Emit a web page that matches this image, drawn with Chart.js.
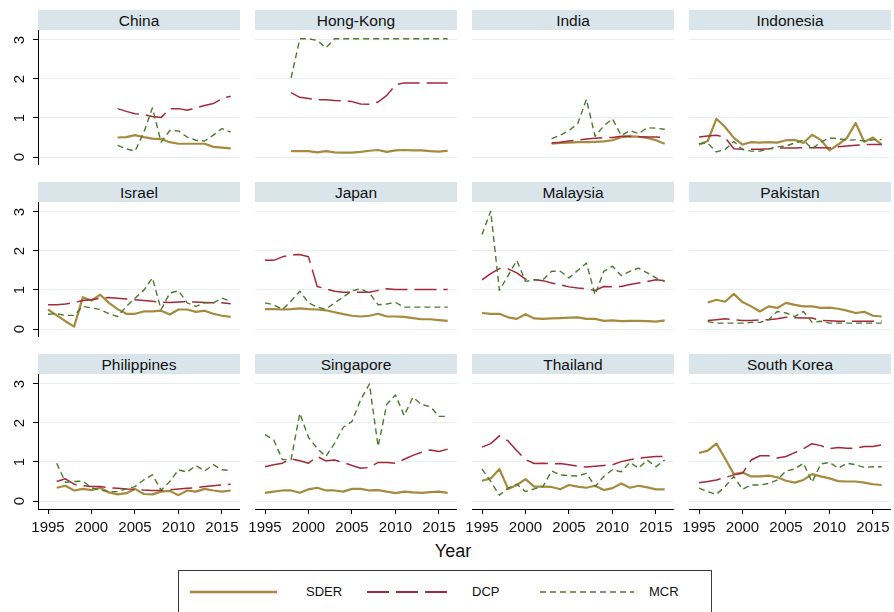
<!DOCTYPE html>
<html>
<head>
<meta charset="utf-8">
<script src="https://cdn.jsdelivr.net/npm/chart.js@4.4.1/dist/chart.umd.min.js"></script>
<style>
  html, body { margin: 0; padding: 0; background: #ffffff; }
  #wrap { position: relative; width: 894px; height: 612px; overflow: hidden;
          font-family: "Liberation Sans", Arial, Helvetica, sans-serif; color: #111; }
  .strip { position: absolute; height: 20px; line-height: 21px; background: #d9e5ea;
           font-size: 15.5px; text-align: center; color: #111; }
  canvas { position: absolute; }
  #xtitle { position: absolute; left: 403px; width: 100px; top: 540px; text-align: center;
            font-size: 18px; line-height: 22px; color: #111; }
  #legend { position: absolute; left: 178px; top: 570px; width: 534px; height: 60px;
            border: 1px solid #3a3a3a; box-sizing: border-box; }
  .lgtext { position: absolute; top: 13px; font-size: 13px; line-height: 16px; color: #111; }
  .lgline { position: absolute; top: 12px; }
</style>
</head>
<body>
<div id="wrap">
  <div id="xtitle">Year</div>
  <div id="legend"></div>
</div>
<script>
// ---- data ---------------------------------------------------------------
const years = [1995,1996,1997,1998,1999,2000,2001,2002,2003,2004,2005,
               2006,2007,2008,2009,2010,2011,2012,2013,2014,2015,2016];
const xTickValues = [1995, 2000, 2005, 2010, 2015];
const yTickValues = [0, 1, 2, 3];
const seriesNames = ['SDER', 'DCP', 'MCR'];
const countries = ['China', 'Hong-Kong', 'India', 'Indonesia',
                   'Israel', 'Japan', 'Malaysia', 'Pakistan',
                   'Philippines', 'Singapore', 'Thailand', 'South Korea'];
const N = null;

const chinaSDER = [N,N,N,N,N,N,N,N,0.50,0.51,0.56,0.51,0.47,0.46,0.38,0.34,0.34,0.34,0.34,0.26,0.24,0.22];
const chinaDCP  = [N,N,N,N,N,N,N,N,1.24,1.17,1.11,1.09,1.04,1.01,1.24,1.24,1.20,1.26,1.32,1.37,1.50,1.56];
const chinaMCR  = [N,N,N,N,N,N,N,N,0.30,0.21,0.15,0.62,1.26,0.38,0.68,0.67,0.51,0.43,0.41,0.56,0.73,0.64];

const hongKongSDER = [N,N,N,0.15,0.15,0.15,0.12,0.15,0.12,0.11,0.11,0.13,0.16,0.18,0.13,0.17,0.18,0.17,0.17,0.15,0.14,0.16];
const hongKongDCP  = [N,N,N,1.65,1.53,1.50,1.47,1.47,1.45,1.44,1.42,1.36,1.35,1.41,1.58,1.85,1.90,1.90,1.90,1.90,1.90,1.90];
const hongKongMCR  = [N,N,N,2.03,3.03,3.03,2.99,2.80,3.03,3.03,3.03,3.03,3.03,3.03,3.03,3.03,3.03,3.03,3.03,3.03,3.03,3.03];

const indiaSDER = [N,N,N,N,N,N,N,N,0.34,0.36,0.37,0.38,0.38,0.39,0.40,0.43,0.51,0.53,0.52,0.49,0.43,0.34];
const indiaDCP  = [N,N,N,N,N,N,N,N,0.36,0.38,0.41,0.43,0.46,0.48,0.50,0.50,0.53,0.53,0.52,0.51,0.51,0.50];
const indiaMCR  = [N,N,N,N,N,N,N,N,0.47,0.56,0.68,0.85,1.48,0.53,0.80,0.98,0.55,0.68,0.60,0.75,0.74,0.71];

const indonesiaSDER = [0.32,0.41,0.98,0.77,0.49,0.32,0.38,0.37,0.38,0.37,0.43,0.44,0.36,0.57,0.44,0.17,0.32,0.49,0.87,0.39,0.50,0.32];
const indonesiaDCP  = [0.51,0.54,0.56,0.50,0.21,0.20,0.20,0.20,0.21,0.23,0.23,0.23,0.24,0.24,0.24,0.23,0.26,0.28,0.30,0.32,0.32,0.32];
const indonesiaMCR  = [0.34,0.36,0.13,0.19,0.40,0.19,0.15,0.15,0.21,0.26,0.28,0.36,0.43,0.21,0.38,0.49,0.47,0.43,0.44,0.41,0.44,0.45];

const israelSDER = [0.50,0.35,0.20,0.06,0.81,0.73,0.88,0.67,0.51,0.39,0.39,0.45,0.45,0.47,0.37,0.50,0.50,0.44,0.47,0.39,0.34,0.31];
const israelDCP  = [0.62,0.62,0.64,0.68,0.73,0.75,0.79,0.81,0.79,0.77,0.75,0.73,0.71,0.69,0.68,0.69,0.70,0.69,0.68,0.67,0.67,0.65];
const israelMCR  = [0.38,0.39,0.35,0.35,0.58,0.54,0.50,0.39,0.32,0.58,0.79,0.99,1.31,0.50,0.92,0.98,0.67,0.58,0.67,0.67,0.79,0.71];

const japanSDER = [0.51,0.51,0.50,0.51,0.53,0.51,0.50,0.48,0.43,0.38,0.34,0.32,0.34,0.39,0.32,0.32,0.31,0.28,0.25,0.25,0.23,0.21];
const japanDCP  = [1.76,1.76,1.85,1.90,1.91,1.85,1.09,1.03,0.97,0.94,0.94,0.94,0.94,0.99,1.03,1.01,1.01,1.01,1.01,1.01,1.01,1.01];
const japanMCR  = [0.67,0.62,0.50,0.72,0.97,0.67,0.56,0.51,0.67,0.82,0.98,1.03,0.92,0.62,0.64,0.68,0.56,0.56,0.56,0.56,0.56,0.56];

const malaysiaSDER = [0.41,0.39,0.39,0.30,0.26,0.38,0.27,0.26,0.27,0.28,0.29,0.30,0.26,0.26,0.21,0.22,0.20,0.21,0.21,0.20,0.19,0.22];
const malaysiaDCP  = [1.26,1.42,1.55,1.54,1.44,1.28,1.26,1.24,1.18,1.13,1.08,1.05,1.03,0.99,1.09,1.08,1.09,1.14,1.18,1.22,1.26,1.24];
const malaysiaMCR  = [2.42,3.02,0.99,1.37,1.76,1.22,1.26,1.26,1.48,1.48,1.31,1.50,1.69,0.88,1.48,1.61,1.37,1.48,1.56,1.44,1.31,1.22];

const pakistanSDER = [N,0.68,0.75,0.70,0.90,0.69,0.58,0.45,0.58,0.54,0.67,0.62,0.58,0.58,0.54,0.55,0.52,0.47,0.41,0.44,0.34,0.32];
const pakistanDCP  = [N,0.22,0.24,0.26,0.24,0.22,0.22,0.23,0.24,0.26,0.30,0.29,0.28,0.28,0.22,0.21,0.20,0.20,0.20,0.20,0.20,0.20];
const pakistanMCR  = [N,0.19,0.15,0.15,0.15,0.15,0.17,0.17,0.24,0.45,0.41,0.32,0.45,0.17,0.20,0.15,0.15,0.15,0.15,0.15,0.15,0.15];

const philippinesSDER = [N,0.34,0.39,0.27,0.31,0.28,0.34,0.22,0.17,0.20,0.31,0.18,0.17,0.24,0.26,0.15,0.27,0.24,0.31,0.27,0.24,0.27];
const philippinesDCP  = [N,0.50,0.57,0.43,0.39,0.37,0.37,0.34,0.33,0.31,0.30,0.28,0.27,0.27,0.29,0.31,0.33,0.34,0.37,0.39,0.41,0.43];
const philippinesMCR  = [N,0.97,0.48,0.50,0.51,0.34,0.28,0.24,0.24,0.31,0.37,0.54,0.67,0.28,0.50,0.80,0.74,0.91,0.77,0.93,0.80,0.78];

const singaporeSDER = [0.21,0.24,0.27,0.27,0.21,0.30,0.34,0.27,0.27,0.24,0.31,0.31,0.27,0.28,0.24,0.20,0.24,0.22,0.21,0.23,0.24,0.21];
const singaporeDCP  = [0.88,0.93,0.97,1.08,1.03,0.97,1.14,1.03,1.05,0.99,0.91,0.84,0.86,0.99,0.99,0.97,1.07,1.17,1.25,1.31,1.27,1.33];
const singaporeMCR  = [1.70,1.57,1.06,1.06,2.25,1.63,1.35,1.14,1.48,1.89,2.04,2.60,3.00,1.40,2.48,2.72,2.19,2.66,2.47,2.42,2.17,2.17];

const thailandSDER = [0.52,0.58,0.82,0.31,0.41,0.56,0.37,0.37,0.36,0.30,0.41,0.37,0.34,0.39,0.28,0.33,0.45,0.34,0.39,0.35,0.30,0.30];
const thailandDCP  = [1.38,1.47,1.67,1.54,1.29,1.06,0.96,0.97,0.95,0.96,0.93,0.89,0.87,0.89,0.91,0.93,1.01,1.06,1.10,1.12,1.14,1.14];
const thailandMCR  = [0.82,0.50,0.15,0.33,0.43,0.24,0.31,0.37,0.77,0.67,0.65,0.64,0.71,0.37,0.63,0.80,0.75,0.99,0.84,1.05,0.88,1.05];

const southKoreaSDER = [1.23,1.29,1.47,1.09,0.69,0.73,0.63,0.63,0.65,0.61,0.52,0.47,0.54,0.69,0.63,0.58,0.51,0.50,0.50,0.47,0.43,0.41];
const southKoreaDCP  = [0.47,0.50,0.54,0.60,0.67,0.71,1.05,1.16,1.16,1.10,1.14,1.24,1.34,1.47,1.42,1.34,1.37,1.35,1.35,1.40,1.40,1.44];
const southKoreaMCR  = [0.33,0.24,0.17,0.37,0.63,0.30,0.41,0.41,0.45,0.54,0.77,0.82,0.97,0.48,0.95,0.99,0.84,0.97,0.93,0.86,0.88,0.88];

// ---- panel table ----------------------------------------------------------
const panelSeries = [
  [chinaSDER, chinaDCP, chinaMCR],
  [hongKongSDER, hongKongDCP, hongKongMCR],
  [indiaSDER, indiaDCP, indiaMCR],
  [indonesiaSDER, indonesiaDCP, indonesiaMCR],
  [israelSDER, israelDCP, israelMCR],
  [japanSDER, japanDCP, japanMCR],
  [malaysiaSDER, malaysiaDCP, malaysiaMCR],
  [pakistanSDER, pakistanDCP, pakistanMCR],
  [philippinesSDER, philippinesDCP, philippinesMCR],
  [singaporeSDER, singaporeDCP, singaporeMCR],
  [thailandSDER, thailandDCP, thailandMCR],
  [southKoreaSDER, southKoreaDCP, southKoreaMCR]
];

// ---- styling ----------------------------------------------------------------
const FONT = '"Liberation Sans", Arial, Helvetica, sans-serif';
const lineStyles = [
  { color: '#a68a3e', width: 2.2, dash: [] },
  { color: '#a3293a', width: 1.5, dash: [22, 7] },
  { color: '#4a7a2c', width: 1.4, dash: [6, 4] }
];
const plotLeft = [38, 255, 472, 689];
const plotTop = [30, 202, 374];
const plotW = 202, plotH = 135;
const yAxisW = 38, xAxisH = 45;
const labelRoom = 18;          // room left of inner bottom panels for the first year label
const xMin = 1993.85, xMax = 2017.07;
const yMin = -0.205, yMax = 3.256;

Chart.defaults.font.family = FONT;
const wrap = document.getElementById('wrap');

countries.forEach((name, idx) => {
  const row = Math.floor(idx / 4), col = idx % 4;
  const isLeft = col === 0, isBottom = row === 2;
  const leftExtra = isLeft ? yAxisW : (isBottom ? labelRoom : 0);

  const strip = document.createElement('div');
  strip.className = 'strip';
  strip.style.left = plotLeft[col] + 'px';
  strip.style.top = (plotTop[row] - 20) + 'px';
  strip.style.width = plotW + 'px';
  strip.textContent = name;
  wrap.appendChild(strip);

  const cv = document.createElement('canvas');
  const w = plotW + leftExtra;
  const h = plotH + (isBottom ? xAxisH : 0);
  cv.width = w; cv.height = h;
  cv.style.width = w + 'px'; cv.style.height = h + 'px';
  cv.style.left = (plotLeft[col] - leftExtra) + 'px';
  cv.style.top = plotTop[row] + 'px';
  wrap.appendChild(cv);

  const datasets = panelSeries[idx].map((vals, s) => ({
    label: seriesNames[s],
    data: years.map((yr, i) => ({ x: yr, y: vals[i] })),
    borderColor: lineStyles[s].color,
    borderWidth: lineStyles[s].width,
    borderDash: lineStyles[s].dash,
    borderCapStyle: 'butt',
    borderJoinStyle: 'round',
    pointRadius: 0,
    tension: 0,
    fill: false,
    spanGaps: false,
    order: 2 - s
  }));

  new Chart(cv, {
    type: 'line',
    data: { datasets },
    options: {
      responsive: false,
      animation: false,
      events: [],
      devicePixelRatio: 1,
      layout: { padding: { left: isLeft ? 0 : leftExtra, right: 0, top: 0, bottom: 0 } },
      plugins: { legend: { display: false }, tooltip: { enabled: false }, title: { display: false } },
      scales: {
        x: {
          type: 'linear', min: xMin, max: xMax, display: isBottom,
          afterBuildTicks: s => { s.ticks = xTickValues.map(v => ({ value: v })); },
          afterFit: s => { s.height = isBottom ? xAxisH : 0; s.paddingLeft = 0; s.paddingRight = 0; },
          grid: { drawOnChartArea: false, drawTicks: true, tickLength: 5, tickColor: '#000', tickWidth: 1 },
          border: { display: true, color: '#000', width: 1 },
          ticks: { color: '#111', font: { size: 15, family: FONT }, padding: 5,
                   minRotation: 0, maxRotation: 0, autoSkip: false,
                   callback: v => String(v) }
        },
        y: {
          type: 'linear', min: yMin, max: yMax,
          afterBuildTicks: s => { s.ticks = yTickValues.map(v => ({ value: v })); },
          afterFit: s => { s.width = isLeft ? yAxisW : 0; s.paddingTop = 0; s.paddingBottom = 0; },
          grid: { color: '#e6eef0', lineWidth: 1, drawTicks: isLeft, tickLength: 5,
                  tickColor: '#000', tickWidth: 1 },
          border: { display: isLeft, color: '#000', width: 1 },
          ticks: { display: isLeft, color: '#111', font: { size: 15, family: FONT },
                   padding: 9, minRotation: 90, maxRotation: 90, crossAlign: 'center',
                   callback: v => String(v) }
        }
      }
    }
  });
});

// ---- legend -----------------------------------------------------------------
const legend = document.getElementById('legend');
const legendLines = [[11, 98], [188, 272], [361, 455]];
const legendText = [127, 293, 470];
seriesNames.forEach((nm, s) => {
  const [x0, x1] = legendLines[s];
  const svgNS = 'http://www.w3.org/2000/svg';
  const svg = document.createElementNS(svgNS, 'svg');
  svg.setAttribute('class', 'lgline');
  svg.setAttribute('width', x1 - x0);
  svg.setAttribute('height', 20);
  svg.style.left = x0 + 'px';
  svg.style.position = 'absolute';
  const ln = document.createElementNS(svgNS, 'line');
  ln.setAttribute('x1', 0); ln.setAttribute('x2', x1 - x0);
  ln.setAttribute('y1', 9); ln.setAttribute('y2', 9);
  ln.setAttribute('stroke', lineStyles[s].color);
  ln.setAttribute('stroke-width', lineStyles[s].width + 0.3);
  if (lineStyles[s].dash.length) ln.setAttribute('stroke-dasharray', lineStyles[s].dash.join(' '));
  svg.appendChild(ln);
  legend.appendChild(svg);

  const t = document.createElement('div');
  t.className = 'lgtext';
  t.style.left = legendText[s] + 'px';
  t.textContent = nm;
  legend.appendChild(t);
});
</script>
</body>
</html>
